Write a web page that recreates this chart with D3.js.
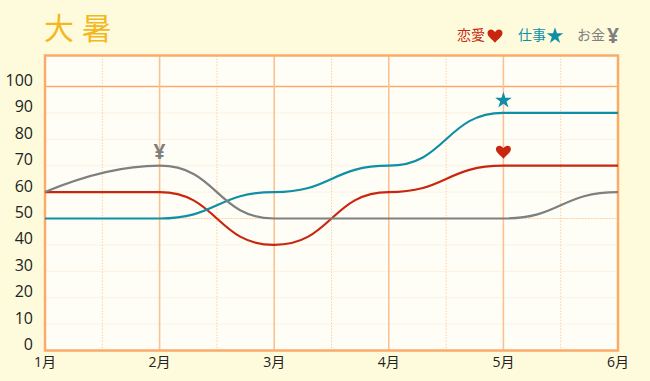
<!DOCTYPE html>
<html>
<head>
<meta charset="utf-8">
<script src="https://cdn.jsdelivr.net/npm/d3@7"></script>
<style>
  html, body { margin: 0; padding: 0; background: #fefbdc; }
  svg { display: block; }
  text { font-family: "Open Sans", "Noto Sans CJK JP", sans-serif; }
</style>
</head>
<body>
<svg></svg>
<script>
const months = ["1月", "2月", "3月", "4月", "5月", "6月"];
const yTicks = [0, 10, 20, 30, 40, 50, 60, 70, 80, 90, 100];
const halfMonths = [0.5, 1.5, 2.5, 3.5, 4.5];
const love = [60, 60, 40, 60, 70, 70];
const work = [50, 50, 60, 70, 90, 90];
const money = [60, 70, 50, 50, 50, 60];

const w = 650;
const h = 381;
const red = "#c8260f";
const teal = "#0f8fa6";
const gray = "#7f7f7f";
const orange = "#fbaa6a";

const svg = d3.select("svg").attr("width", w).attr("height", h);

const xScale = d3.scaleLinear().domain([0, 5]).range([45, 618]);
const yScale = d3.scaleLinear().domain([0, 100]).range([350.5, 86.5]);
const plotTop = 55.5;

svg
  .append("rect")
  .attr("x", xScale(0))
  .attr("y", plotTop)
  .attr("width", xScale(5) - xScale(0))
  .attr("height", yScale(0) - plotTop)
  .attr("fill", "#fffef6");

const drawGrid = () => {
  svg
    .append("g")
    .selectAll("line")
    .data(yTicks.filter((d) => d > 0 && d < 100))
    .join("line")
    .attr("x1", xScale(0))
    .attr("x2", xScale(5))
    .attr("y1", (d) => yScale(d))
    .attr("y2", (d) => yScale(d))
    .attr("stroke", "#fdf1e0")
    .attr("stroke-width", 1);

  svg
    .append("g")
    .selectAll("line")
    .data(halfMonths)
    .join("line")
    .attr("x1", (d) => xScale(d))
    .attr("x2", (d) => xScale(d))
    .attr("y1", plotTop)
    .attr("y2", yScale(0))
    .attr("stroke", "#fbcf9f")
    .attr("stroke-dasharray", "1.5 1.5");

  svg
    .append("line")
    .attr("x1", xScale(0))
    .attr("x2", xScale(5))
    .attr("y1", yScale(50))
    .attr("y2", yScale(50))
    .attr("stroke", "#fbcf9f")
    .attr("stroke-dasharray", "1.5 1.5");

  svg
    .append("line")
    .attr("x1", xScale(0))
    .attr("x2", xScale(5))
    .attr("y1", yScale(100))
    .attr("y2", yScale(100))
    .attr("stroke", orange)
    .attr("stroke-width", 1.5);

  svg
    .append("g")
    .selectAll("line")
    .data([1, 2, 3, 4])
    .join("line")
    .attr("x1", (d) => xScale(d))
    .attr("x2", (d) => xScale(d))
    .attr("y1", plotTop)
    .attr("y2", yScale(0))
    .attr("stroke", "#fac294")
    .attr("stroke-width", 1.6);

  svg
    .append("rect")
    .attr("x", xScale(0))
    .attr("y", plotTop)
    .attr("width", xScale(5) - xScale(0))
    .attr("height", yScale(0) - plotTop)
    .attr("fill", "none")
    .attr("stroke", orange)
    .attr("stroke-width", 2.5);
};

const drawAxes = () => {
  svg
    .append("g")
    .selectAll("text")
    .data(yTicks)
    .join("text")
    .text((d) => d)
    .attr("x", 33)
    .attr("y", (d) => yScale(d) - 0.5)
    .attr("text-anchor", "end")
    .attr("font-size", 16)
    .attr("fill", "#222");

  svg
    .append("g")
    .selectAll("text")
    .data(months)
    .join("text")
    .text((d) => d)
    .attr("x", (d, i) => xScale(i))
    .attr("y", 367)
    .attr("text-anchor", "middle")
    .attr("font-size", 14)
    .attr("fill", "#222");
};

const drawLines = () => {
  const line = d3
    .line()
    .x((d, i) => xScale(i))
    .y((d) => yScale(d))
    .curve(d3.curveBumpX);

  [
    [love, red],
    [work, teal],
  ].forEach(([values, color]) => {
    svg
      .append("path")
      .attr("d", line(values))
      .attr("fill", "none")
      .attr("stroke", color)
      .attr("stroke-width", 2.2);
  });

  // the grey one leaves 1月 at an angle, only flattens out towards 2月
  const head = d3.path();
  head.moveTo(xScale(0), yScale(money[0]));
  head.quadraticCurveTo(xScale(0.55), yScale(money[1]), xScale(1), yScale(money[1]));

  const tail = d3
    .line()
    .x((d, i) => xScale(i + 1))
    .y((d) => yScale(d))
    .curve(d3.curveBumpX);

  svg
    .append("path")
    .attr("d", head.toString() + tail(money.slice(1)).replace(/^M[^C]*/, ""))
    .attr("fill", "none")
    .attr("stroke", gray)
    .attr("stroke-width", 2.2);
};

const heartPath = (cx, cy, s) =>
  `M${cx},${cy + s * 0.95}
   C${cx - s * 0.35},${cy + s * 0.5} ${cx - s},${cy + s * 0.15} ${cx - s},${cy - s * 0.35}
   C${cx - s},${cy - s * 0.85} ${cx - s * 0.3},${cy - s * 1.0} ${cx},${cy - s * 0.45}
   C${cx + s * 0.3},${cy - s * 1.0} ${cx + s},${cy - s * 0.85} ${cx + s},${cy - s * 0.35}
   C${cx + s},${cy + s * 0.15} ${cx + s * 0.35},${cy + s * 0.5} ${cx},${cy + s * 0.95}Z`;

const star = d3.symbol().type(d3.symbolStar);

const addMarker = (type, cx, cy, color) => {
  if (type === "heart") {
    svg.append("path").attr("d", heartPath(cx, cy, 7.5)).attr("fill", color);
  } else if (type === "star") {
    svg
      .append("path")
      .attr("d", star.size(85)())
      .attr("transform", `translate(${cx}, ${cy + 0.5})`)
      .attr("fill", color);
  } else {
    svg
      .append("text")
      .text("¥")
      .attr("x", cx)
      .attr("y", cy + 7.5)
      .attr("text-anchor", "middle")
      .attr("font-family", "Noto Sans CJK JP")
      .attr("font-weight", "bold")
      .attr("font-size", 21)
      .attr("fill", color);
  }
};

const drawMarkers = () => {
  addMarker("yen", xScale(1), yScale(70) - 14, gray);
  addMarker("star", xScale(4), yScale(90) - 13, teal);
  addMarker("heart", xScale(4), yScale(70) - 14, red);
};

const addTitle = () => {
  svg
    .append("text")
    .text("大 暑")
    .attr("x", 44)
    .attr("y", 39)
    .attr("font-family", "Noto Sans CJK JP")
    .attr("font-size", 30)
    .attr("fill", "#f2b81e");
};

const addLegend = () => {
  const items = [
    ["恋愛", red, 457, "heart", 495],
    ["仕事", teal, 518, "star", 555],
    ["お金", gray, 577, "yen", 613],
  ];
  items.forEach(([label, color, x, type, mx]) => {
    svg
      .append("text")
      .text(label)
      .attr("x", x)
      .attr("y", 40)
      .attr("font-family", "Noto Sans CJK JP")
      .attr("font-size", 14)
      .attr("fill", color);
    addMarker(type, mx, 35.5, color);
  });
};

drawGrid();
drawAxes();
drawLines();
drawMarkers();
addTitle();
addLegend();
</script>
</body>
</html>
